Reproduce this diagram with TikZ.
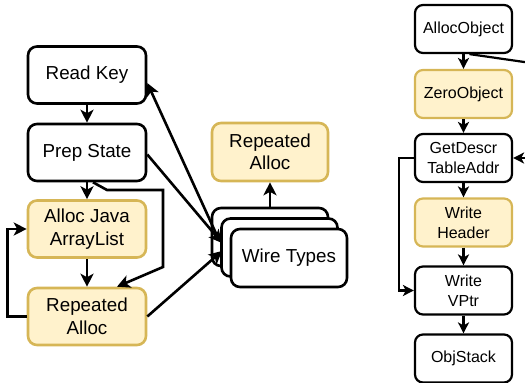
\documentclass[tikz,border=0pt]{standalone}
\usepackage{fontspec}
\setmainfont{Liberation Sans}
\usetikzlibrary{arrows.meta,calc}

\definecolor{noteFill}{HTML}{FFF2CC}
\definecolor{noteLine}{HTML}{D6B656}

\tikzset{
  box/.style={draw=black, line width=2.6pt, rounded corners=9pt, fill=white,
    minimum width=118pt, minimum height=57pt, inner sep=0pt, align=center,
    font=\fontsize{18.8}{22.5}\selectfont},
  hot/.style={draw=noteLine, fill=noteFill},
  smallbox/.style={box, line width=2.2pt, rounded corners=8pt,
    minimum width=97pt, minimum height=48pt,
    font=\fontsize{16}{20}\selectfont},
  edge/.style={line width=2.6pt, -{Stealth[length=13pt,width=13pt,inset=3.5pt]}},
  link/.style={line width=2.6pt},
  sedge/.style={line width=2.2pt, -{Stealth[length=11pt,width=11pt,inset=3pt]}},
  slink/.style={line width=2.2pt}
}

\begin{document}
\begin{tikzpicture}[x=1pt,y=-1pt]
\useasboundingbox (0,0) rectangle (525,383);
\clip (0,0) rectangle (525,383);

% left column
\node[box]      (rk) at (87,75)    {Read Key};
\node[box]      (ps) at (87,152.5) {Prep State};
\node[box,hot]  (aj) at (87,229)   {Alloc Java\\ArrayList};
\node[box,hot]  (ra) at (87,316.5) {Repeated\\Alloc};

% stacked wire types
\node[box, minimum width=116pt, minimum height=58pt] (wb) at (270,237)   {};
\node[box, minimum width=116pt, minimum height=58pt] (wm) at (279.5,247.5) {};
\node[box, minimum width=116pt, minimum height=58pt] (wf) at (289,258)   {Wire Types};
\node[box,hot, minimum width=116pt, minimum height=58pt] (rb) at (270,152) {Repeated\\Alloc};

\coordinate (wIn1) at (222,243);
\coordinate (wIn2) at (222,251);
\coordinate (wOut) at (219,240);

\draw[edge] (rk) -- (ps);
\draw[edge] (ps) -- (aj);
\draw[edge] (aj) -- (ra);
\draw[edge] ($(ps.south)+(6,0)$) -- (107,190) -- (163,190) -- (163,267) -- ($(ra.north)+(30,0)$);
\draw[edge] (ra.west) -- ++(-19,0) |- (aj.west);
\draw[edge] ($(ps.east)+(0,2)$) -- (wIn1);
\draw[edge] (ra.east) -- (wIn2);
\draw[edge] (wOut) -- ($(rk.east)+(0,8)$);
\draw[edge] (wb) -- (rb);

% right column
\node[smallbox]     (ao) at (463.5,29)    {AllocObject};
\node[smallbox,hot] (zo) at (463.5,94)    {ZeroObject};
\node[smallbox]     (gd) at (463.5,158)   {GetDescr\\TableAddr};
\node[smallbox,hot] (wh) at (463.5,222.5) {Write\\Header};
\node[smallbox]     (wv) at (463.5,290.5) {Write\\VPtr};
\node[smallbox]     (os) at (463.5,358.5) {ObjStack};

\coordinate (aoOff) at (545,65);
\coordinate (gdOff) at (545,158);

\draw[sedge] (ao) -- (zo);
\draw[sedge] (zo) -- (gd);
\draw[sedge] (gd) -- (wh);
\draw[sedge] (wh) -- (wv);
\draw[sedge] (wv) -- (os);
\draw[sedge] (gd.west) -- ++(-15,0) |- (wv.west);
\draw[slink] ($(ao.south)+(6,0)$) -- (aoOff);
\draw[sedge] (gdOff) -- (gd.east);
\end{tikzpicture}
\end{document}
